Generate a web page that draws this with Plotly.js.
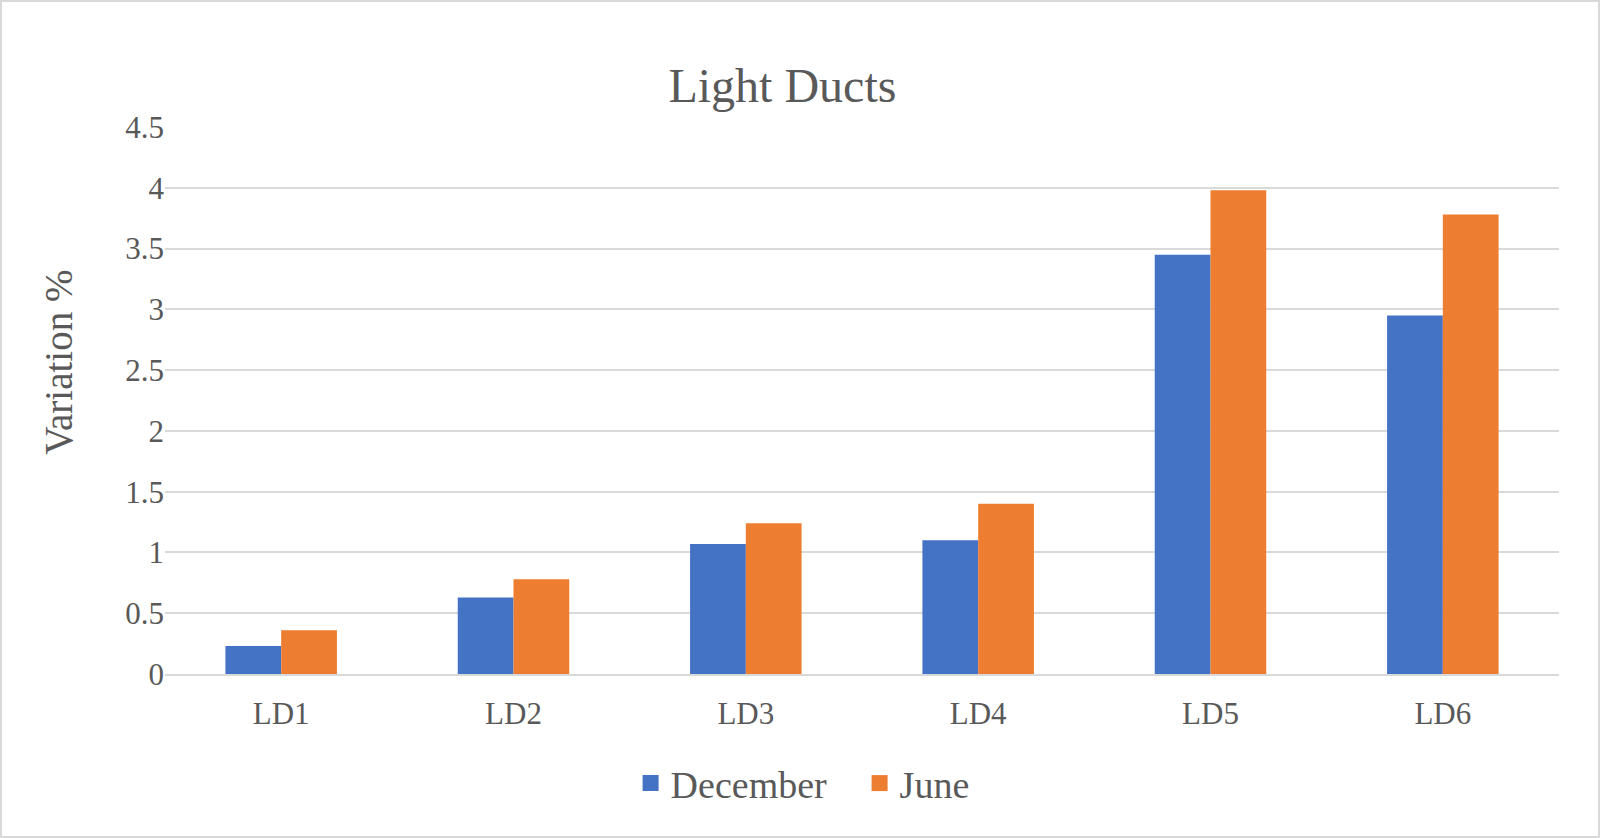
<!DOCTYPE html>
<html>
<head>
<meta charset="utf-8">
<script src="https://cdn.plot.ly/plotly-3.0.1.min.js"></script>
<style>
html,body{margin:0;padding:0;background:#fff;}
#chart{width:1600px;height:838px;box-sizing:border-box;border:2px solid #d9d9d9;}
</style>
</head>
<body>
<div id="chart"></div>
<script>
const categories = ["LD1", "LD2", "LD3", "LD4", "LD5", "LD6"];
const december = [0.23, 0.63, 1.07, 1.10, 3.45, 2.95];
const june = [0.36, 0.78, 1.24, 1.40, 3.98, 3.78];
const yTicks = [0, 0.5, 1, 1.5, 2, 2.5, 3, 3.5, 4, 4.5];
const yTickLabels = ["0", "0.5", "1", "1.5", "2", "2.5", "3", "3.5", "4", "4.5"];
const seriesNames = ["December", "June"];
const seriesColors = ["#4472C4", "#ED7D31"];

const font = "Liberation Serif, Times New Roman, serif";
const textColor = "#595959";
const traces = [
  {type: "bar", name: seriesNames[0], x: categories, y: december, marker: {color: seriesColors[0]}, showlegend: false},
  {type: "bar", name: seriesNames[1], x: categories, y: june, marker: {color: seriesColors[1]}, showlegend: false},
  // legend-only entries with larger square swatches
  {type: "scatter", mode: "markers", name: seriesNames[0], x: [categories[0]], y: [null], marker: {symbol: "square", size: 20, color: seriesColors[0]}, showlegend: true, hoverinfo: "skip"},
  {type: "scatter", mode: "markers", name: seriesNames[1], x: [categories[0]], y: [null], marker: {symbol: "square", size: 20, color: seriesColors[1]}, showlegend: true, hoverinfo: "skip"}
];
const layout = {
  width: 1596, height: 834,
  paper_bgcolor: "#fff", plot_bgcolor: "#fff",
  margin: {l: 163, r: 39, t: 125, b: 162},
  font: {family: font, color: textColor, size: 31},
  title: {text: "Light Ducts", font: {family: font, size: 48, color: textColor}, x: 0.489, xanchor: "center", y: 0.9, yanchor: "middle"},
  barmode: "group", bargap: 0.52, bargroupgap: 0,
  xaxis: {showgrid: false, showline: true, linecolor: "#d9d9d9", linewidth: 2, ticks: "", tickfont: {family: font, size: 31, color: textColor}, ticklabelstandoff: 11},
  yaxis: {range: [0, 4.5], tickvals: yTicks, ticktext: yTickLabels, showgrid: true, gridcolor: "#d9d9d9", gridwidth: 2, zeroline: false, showline: false, ticks: "", ticklabelstandoff: 0, tickfont: {family: font, size: 31, color: textColor}},
  annotations: [{text: "Variation %", xref: "paper", yref: "paper", x: -0.076, y: 0.569, xanchor: "center", yanchor: "middle", textangle: -90, showarrow: false, font: {family: font, size: 39, color: textColor}}],
  showlegend: true,
  legend: {orientation: "h", x: 0.334, xanchor: "left", y: -0.2, yanchor: "middle", font: {family: font, size: 38, color: textColor}, itemwidth: 30, entrywidth: 184, entrywidthmode: "pixels", traceorder: "normal", itemsizing: "trace"}
};
Plotly.newPlot("chart", traces, layout, {displayModeBar: false, staticPlot: true});
</script>
</body>
</html>
